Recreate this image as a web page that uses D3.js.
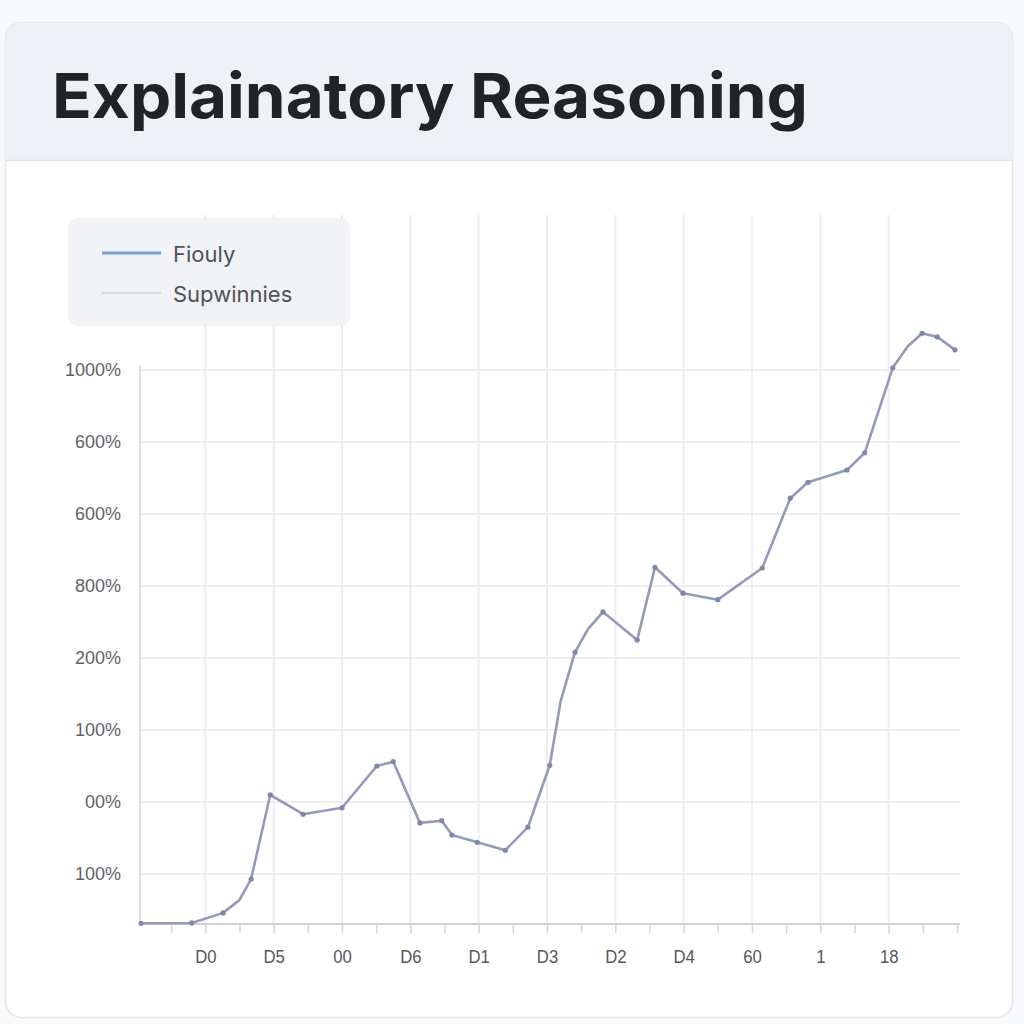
<!DOCTYPE html>
<html>
<head>
<meta charset="utf-8">
<script src="https://cdn.jsdelivr.net/npm/d3@7/dist/d3.min.js"></script>
<style>
  html, body { margin: 0; padding: 0; background: #f8f9fb; }
  svg { display: block; }
</style>
</head>
<body>
<svg id="chart" width="1024" height="1024"></svg>
<script>
// ---- data ----
const title = "Explainatory Reasoning";
const seriesNames = ["Fiouly", "Supwinnies"];
const xTickValues = [1, 2, 3, 4, 5, 6, 7, 8, 9, 10, 11];
const xTickLabels = ["D0", "D5", "00", "D6", "D1", "D3", "D2", "D4", "60", "1", "18"];
const yTickValues = [0, 1, 2, 3, 4, 5, 6, 7];
const yTickLabels = ["100%", "00%", "100%", "200%", "800%", "600%", "600%", "1000%"];
const fioulyX = [0.06, 0.80, 1.26, 1.50, 1.67, 1.95, 2.43, 3.00, 3.51, 3.75, 4.14, 4.46, 4.61, 4.98, 5.39, 5.72, 6.04, 6.20, 6.41, 6.60, 6.82, 7.32, 7.58, 7.99, 8.50, 9.15, 9.56, 9.82, 10.39, 10.65, 11.06, 11.28, 11.49, 11.71, 11.97];
const fioulyY = [-0.685, -0.68, -0.54, -0.36, -0.07, 1.10, 0.83, 0.92, 1.50, 1.56, 0.71, 0.74, 0.54, 0.44, 0.33, 0.65, 1.51, 2.40, 3.08, 3.40, 3.64, 3.25, 4.26, 3.90, 3.81, 4.25, 5.22, 5.44, 5.61, 5.85, 7.03, 7.33, 7.51, 7.46, 7.28];
const fioulyMarked = [1, 1, 1, 0, 1, 1, 1, 1, 1, 1, 1, 1, 1, 1, 1, 1, 1, 0, 1, 0, 1, 1, 1, 1, 1, 1, 1, 1, 1, 1, 1, 0, 1, 1, 1];

// ---- layout ----
const svg = d3.select("#chart");

// card
svg.append("rect").attr("x", 5.5).attr("y", 22.5).attr("width", 1007).attr("height", 995)
  .attr("rx", 16).attr("fill", "#ffffff").attr("stroke", "#e3e6ea").attr("stroke-width", 1.5);
const clip = svg.append("defs").append("clipPath").attr("id", "cardclip");
clip.append("rect").attr("x", 5.5).attr("y", 22.5).attr("width", 1007).attr("height", 995).attr("rx", 16);
svg.append("rect").attr("x", 5).attr("y", 22).attr("width", 1008).attr("height", 138)
  .attr("fill", "#eef2f6").attr("clip-path", "url(#cardclip)");
svg.append("line").attr("x1", 6).attr("x2", 1012).attr("y1", 160.5).attr("y2", 160.5)
  .attr("stroke", "#dfe4ea").attr("stroke-width", 1.5);
svg.append("text").attr("x", 52).attr("y", 118)
  .attr("font-family", "Inter, 'Noto Sans', sans-serif").attr("font-weight", 700)
  .attr("font-size", 62).attr("fill", "#222326")
  .attr("textLength", 756).attr("lengthAdjust", "spacingAndGlyphs")
  .text(title);

// scales
const x = d3.scaleLinear().domain([0, 12]).range([137, 957]);
const y = d3.scaleLinear().domain([0, 7]).range([874, 370]);
const yBase = 924;

const grid = svg.append("g");
grid.selectAll("line.v").data(xTickValues).join("line")
  .attr("x1", d => x(d)).attr("x2", d => x(d))
  .attr("y1", 215).attr("y2", yBase)
  .attr("stroke", "#eceef1").attr("stroke-width", 2);
grid.selectAll("line.h").data(yTickValues).join("line")
  .attr("x1", 140).attr("x2", 960)
  .attr("y1", d => y(d)).attr("y2", d => y(d))
  .attr("stroke", "#eceef1").attr("stroke-width", 2);

svg.append("line").attr("x1", 140).attr("x2", 140).attr("y1", 365).attr("y2", yBase)
  .attr("stroke", "#dcdfe4").attr("stroke-width", 2);

// y axis labels
const yAxis = d3.axisLeft(y).tickValues(yTickValues)
  .tickFormat((d, i) => yTickLabels[i]).tickSize(0).tickPadding(19);
const gy = svg.append("g").attr("transform", "translate(140,0)").call(yAxis);
gy.select(".domain").remove();
gy.selectAll("text").attr("font-family", "'Liberation Sans', Arial, sans-serif")
  .attr("font-size", 18).attr("fill", "#5f6368");

// x axis baseline + ticks
const xMinor = d3.range(1, 25).map(i => i * 0.5);
const xAxisTicks = d3.axisBottom(x).tickValues(xMinor).tickFormat("").tickSize(9);
const gxt = svg.append("g").attr("transform", `translate(0,${yBase})`).call(xAxisTicks);
gxt.select(".domain").attr("d", `M140,0H960`).attr("stroke", "#cfd3d9").attr("stroke-width", 2);
gxt.selectAll(".tick line").attr("stroke", "#d3d6db").attr("stroke-width", 1.5);

const xAxis = d3.axisBottom(x).tickValues(xTickValues)
  .tickFormat((d, i) => xTickLabels[i]).tickSize(0).tickPadding(26);
const gx = svg.append("g").attr("transform", `translate(0,${yBase})`).call(xAxis);
gx.select(".domain").remove();
gx.selectAll("text").attr("font-family", "'Liberation Sans Narrow', 'Liberation Sans', Arial, sans-serif")
  .attr("font-size", 19).attr("fill", "#55585d")
  .attr("transform", "scale(0.88,1)")
  .attr("x", function () { return 0; });
// keep labels centred on their tick despite the horizontal squeeze
gx.selectAll(".tick").each(function (d) {
  d3.select(this).select("text").attr("transform", `scale(0.88,1)`);
});

// series line
const pts = fioulyX.map((d, i) => [d, fioulyY[i], fioulyMarked[i]]);
const line = d3.line().x(d => x(d[0])).y(d => y(d[1])).curve(d3.curveLinear);
svg.append("path").datum(pts).attr("d", line)
  .attr("fill", "none").attr("stroke", "#929bb8").attr("stroke-width", 2.6)
  .attr("stroke-linejoin", "round").attr("stroke-linecap", "round");
svg.selectAll("circle.pt").data(pts.filter(d => d[2])).join("circle")
  .attr("cx", d => x(d[0])).attr("cy", d => y(d[1])).attr("r", 2.6)
  .attr("fill", "#7f88a8");

// legend
const lg = svg.append("g");
lg.append("rect").attr("x", 68).attr("y", 218).attr("width", 282).attr("height", 108)
  .attr("rx", 10).attr("fill", "#f1f3f6");
lg.append("line").attr("x1", 102).attr("x2", 161).attr("y1", 253).attr("y2", 253)
  .attr("stroke", "#7b9ed2").attr("stroke-width", 3);
lg.append("line").attr("x1", 102).attr("x2", 161).attr("y1", 293).attr("y2", 293)
  .attr("stroke", "#d6dadf").attr("stroke-width", 2);
lg.selectAll("text").data(seriesNames).join("text")
  .attr("x", 173).attr("y", (d, i) => 262 + i * 40)
  .attr("font-family", "Inter, 'Noto Sans', sans-serif").attr("font-size", 22)
  .attr("fill", "#4f5257")
  .text(d => d);
</script>
</body>
</html>
